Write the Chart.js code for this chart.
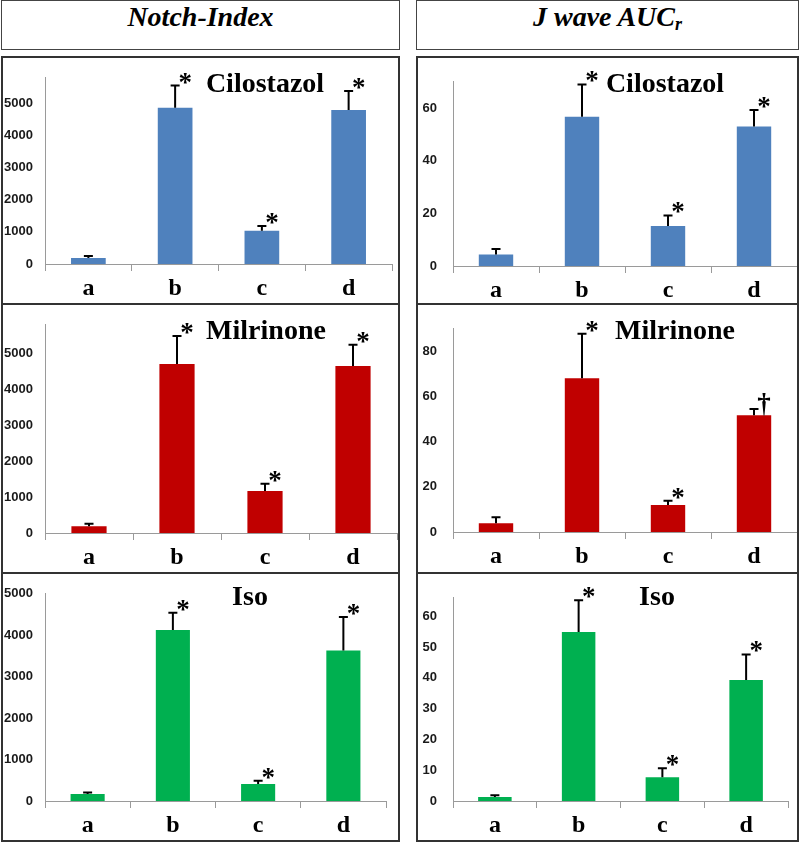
<!DOCTYPE html>
<html>
<head>
<meta charset="utf-8">
<script src="https://cdn.jsdelivr.net/npm/chart.js@4.4.1/dist/chart.umd.min.js"></script>
<style>
  body { margin: 0; background: #fff; width: 800px; height: 842px; position: relative; overflow: hidden; }
  .head {
    position: absolute; top: 0; height: 50px; box-sizing: border-box;
    border: 1px solid #444; text-align: center; line-height: 48px;
    font: italic bold 28px "Liberation Serif", serif; color: #000;
  }
  .head sub { font-size: 18px; line-height: 0; vertical-align: -4px; }
  .panel { position: absolute; box-sizing: border-box; border: 2px solid #333; background: #fff; }
  .panel canvas { position: absolute; left: 0; top: 0; }
</style>
</head>
<body>
<div class="head" style="left:1px;width:399px">Notch-Index</div>
<div class="head" style="left:416px;width:383px">J wave AUC<sub>r</sub></div>
<script>
// groups on the x axis
const groups = ['a', 'b', 'c', 'd'];

// Notch-Index (mean, SEM)
const notchCilostazol = [190, 4870, 1035, 4800];
const notchCilostazolSem = [60, 690, 145, 590];
const notchMilrinone = [190, 4710, 1170, 4650];
const notchMilrinoneSem = [70, 780, 200, 595];
const notchIso = [167, 4125, 412, 3630];
const notchIsoSem = [38, 420, 75, 810];

// J wave AUCr (mean, SEM)
const jwaveCilostazol = [4.4, 56.7, 15.2, 53.0];
const jwaveCilostazolSem = [2.1, 12.3, 4.0, 6.3];
const jwaveMilrinone = [3.9, 68.1, 12.0, 51.7];
const jwaveMilrinoneSem = [2.6, 19.7, 1.8, 2.8];
const jwaveIso = [1.3, 54.9, 7.7, 39.3];
const jwaveIsoSem = [0.6, 10.3, 2.9, 8.3];

// significance marks over the bars
const marksDefault = ['', '*', '*', '*'];
const marksJwaveMilrinone = ['', '*', '*', '\u2020'];

// y tick labels and axis tops
const notchTicks = [0, 1000, 2000, 3000, 4000, 5000];
const jwaveCilostazolTicks = [0, 20, 40, 60];
const jwaveMilrinoneTicks = [0, 20, 40, 60, 80];
const jwaveIsoTicks = [0, 10, 20, 30, 40, 50, 60];
const notchMax = [5800, 5800, 5000];
const jwaveMax = [70, 90, 66];

const BLUE = '#4F81BD';
const RED = '#C00000';
const GREEN = '#00B050';
const AXIS = '#9a9a9a';

// box = [left, top, width, height], plot = [axisLeft, axisTop, axisRight, zeroLine] in page px
const panels = [
  { box: [1, 56, 399, 249], plot: [45, 68, 392, 264], pad: 12, title: 'Cilostazol', tx: 265, ty: 92,
    values: notchCilostazol, sem: notchCilostazolSem, marks: marksDefault, color: BLUE, ticks: notchTicks, max: notchMax[0] },
  { box: [1, 303, 399, 271], plot: [45, 316, 397, 533], pad: 12, title: 'Milrinone', tx: 266, ty: 339,
    values: notchMilrinone, sem: notchMilrinoneSem, marks: marksDefault, color: RED, ticks: notchTicks, max: notchMax[1] },
  { box: [1, 572, 399, 270], plot: [45, 583, 386, 801], pad: 12, title: 'Iso', tx: 250, ty: 605,
    values: notchIso, sem: notchIsoSem, marks: marksDefault, color: GREEN, ticks: notchTicks, max: notchMax[2] },
  { box: [416, 56, 383, 249], plot: [453, 68, 797, 266], pad: 16, title: 'Cilostazol', tx: 665, ty: 92,
    values: jwaveCilostazol, sem: jwaveCilostazolSem, marks: marksDefault, color: BLUE, ticks: jwaveCilostazolTicks, max: jwaveMax[0] },
  { box: [416, 303, 383, 271], plot: [453, 315, 797, 532], pad: 16, title: 'Milrinone', tx: 675, ty: 339,
    values: jwaveMilrinone, sem: jwaveMilrinoneSem, marks: marksJwaveMilrinone, color: RED, ticks: jwaveMilrinoneTicks, max: jwaveMax[1] },
  { box: [416, 572, 383, 270], plot: [453, 583, 788, 801], pad: 16, title: 'Iso', tx: 657, ty: 605,
    values: jwaveIso, sem: jwaveIsoSem, marks: marksDefault, color: GREEN, ticks: jwaveIsoTicks, max: jwaveMax[2] },
];

// error bars (upper only) + significance marks + panel title
const extrasPlugin = {
  id: 'extras',
  afterDatasetsDraw(chart, args, opts) {
    const { ctx } = chart;
    const y = chart.scales.y;
    const meta = chart.getDatasetMeta(0);
    ctx.save();
    ctx.strokeStyle = '#000';
    ctx.lineWidth = 2;
    meta.data.forEach((bar, i) => {
      const top = y.getPixelForValue(opts.values[i] + opts.sem[i]);
      ctx.beginPath();
      ctx.moveTo(bar.x, bar.y);
      ctx.lineTo(bar.x, top);
      ctx.moveTo(bar.x - 4.5, top);
      ctx.lineTo(bar.x + 4.5, top);
      ctx.stroke();
      const mark = opts.marks[i];
      if (mark) {
        ctx.fillStyle = '#000';
        ctx.font = 'bold 27px "Liberation Serif"';
        ctx.textAlign = 'center';
        ctx.textBaseline = 'alphabetic';
        ctx.fillText(mark, bar.x + 10, top + (mark === '*' ? 5 : 3));
      }
    });
    ctx.fillStyle = '#000';
    ctx.font = 'bold 28px "Liberation Serif"';
    ctx.textAlign = 'center';
    ctx.textBaseline = 'alphabetic';
    ctx.fillText(opts.title, opts.tx, opts.ty);
    ctx.restore();
  }
};

panels.forEach(p => {
  const [bx, by, bw, bh] = p.box;
  const [axL, axT, axR, zero] = p.plot;
  const div = document.createElement('div');
  div.className = 'panel';
  div.style.left = bx + 'px';
  div.style.top = by + 'px';
  div.style.width = bw + 'px';
  div.style.height = bh + 'px';
  const canvas = document.createElement('canvas');
  const cw = bw - 4, ch = bh - 4;
  const ox = bx + 2, oy = by + 2;
  canvas.width = cw;
  canvas.height = ch;
  div.appendChild(canvas);
  document.body.appendChild(div);

  new Chart(canvas.getContext('2d'), {
    type: 'bar',
    data: {
      labels: groups,
      datasets: [{
        data: p.values,
        backgroundColor: p.color,
        borderWidth: 0,
        categoryPercentage: 1,
        barPercentage: 0.4
      }]
    },
    options: {
      responsive: false,
      animation: false,
      layout: { padding: { top: axT - oy, right: ox + cw - axR, left: 0, bottom: 0 } },
      plugins: {
        legend: { display: false },
        tooltip: { enabled: false },
        extras: {
          values: p.values, sem: p.sem, marks: p.marks, title: p.title,
          tx: p.tx - ox, ty: p.ty - oy
        }
      },
      scales: {
        x: {
          grid: { display: true, offset: true, drawOnChartArea: false, drawTicks: true, tickLength: 7, color: AXIS, lineWidth: 1 },
          border: { display: true, color: AXIS, width: 1 },
          ticks: { color: '#000', padding: 3, font: { family: 'Liberation Serif', weight: 'bold', size: 24 } },
          afterFit: s => { s.height = oy + ch - zero; }
        },
        y: {
          min: 0,
          max: p.max,
          grid: { display: false, drawTicks: false },
          border: { display: true, color: AXIS, width: 1 },
          ticks: {
            color: '#1a1a1a', padding: p.pad,
            font: { family: 'Liberation Sans', weight: 'bold', size: 13 },
            callback: v => String(v)
          },
          afterBuildTicks: s => { s.ticks = p.ticks.map(v => ({ value: v })); },
          afterFit: s => { s.width = axL - ox; }
        }
      }
    },
    plugins: [extrasPlugin]
  });
});
</script>
</body>
</html>
